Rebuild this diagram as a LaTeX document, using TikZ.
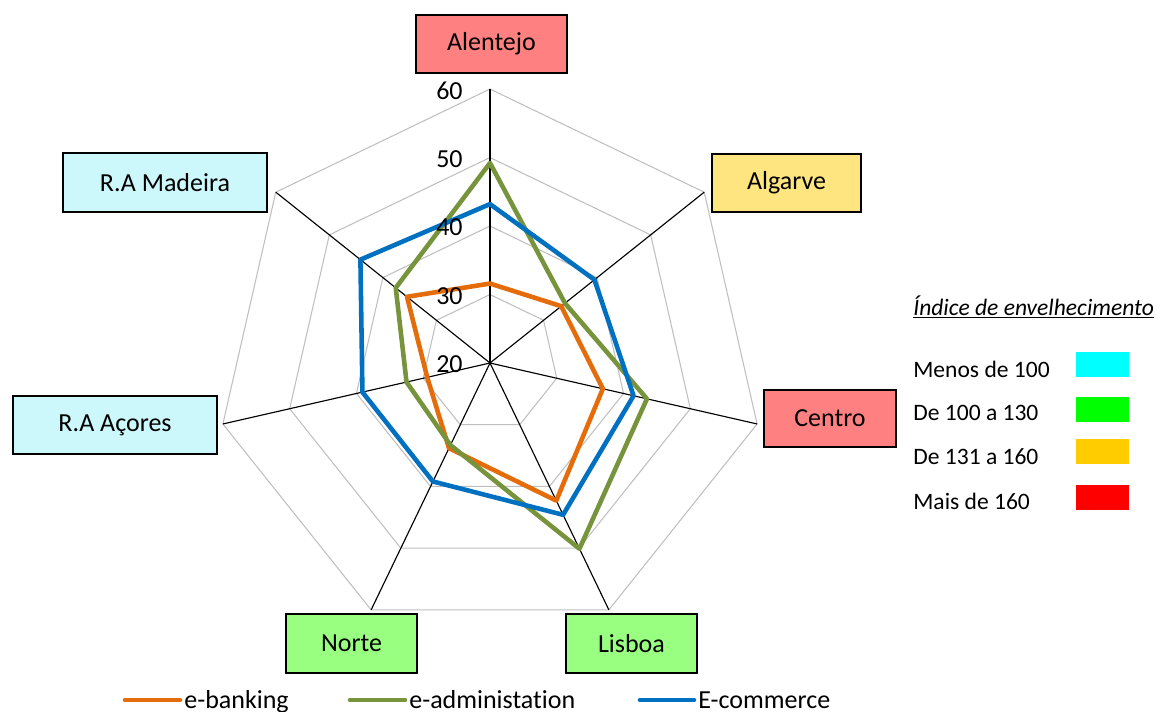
\documentclass[tikz,border=0pt]{standalone}
\usepackage{fontspec}
\setmainfont{Carlito}[Ligatures={NoCommon,NoRequired,NoContextual}]
\definecolor{cOrange}{RGB}{228,108,10}
\definecolor{cGreen}{RGB}{119,147,60}
\definecolor{cBlue}{RGB}{0,112,192}
\definecolor{cGrid}{RGB}{191,191,191}
\definecolor{fRed}{RGB}{255,128,128}
\definecolor{fYellow}{RGB}{255,229,128}
\definecolor{fGreen}{RGB}{153,255,128}
\definecolor{fCyan}{RGB}{204,248,252}
\definecolor{kCyan}{RGB}{0,255,255}
\definecolor{kGreen}{RGB}{0,255,0}
\definecolor{kAmber}{RGB}{255,204,0}
\definecolor{kRed}{RGB}{255,0,0}
\begin{document}
\begin{tikzpicture}[x=0.02cm,y=-0.02cm,
  regionbox/.style={draw=black, line width=1.2pt, inner sep=0pt, font=\fontsize{14.8}{17}\selectfont},
  gridring/.style={draw=cGrid, line width=0.6pt},
  axisline/.style={draw=black, line width=0.65pt},
  series/.style={line width=2.6pt, line join=round},
  ticklabel/.style={anchor=east, inner sep=0pt, font=\fontsize{14.8}{17}\selectfont},
  legtext/.style={anchor=west, inner sep=0pt, font=\fontsize{13.4}{16}\selectfont},
  legkey/.style={minimum width=1.06cm, minimum height=0.5cm, inner sep=0pt},
  serieskey/.style={line width=2.6pt, line cap=round},
  serieslabel/.style={anchor=base west, inner sep=0pt, font=\fontsize{14.8}{17}\selectfont}
]
\useasboundingbox (0,0) rectangle (1161,711);

\begin{scope}[shift={(490,363)}, yscale=-1]
  \coordinate (C) at (0,0);
  \foreach \v in {30,40,50,60}{
    \pgfmathsetmacro{\r}{(\v-20)*6.85}
    \draw[gridring] (90:\r) \foreach \k in {1,...,6}{ -- ({90-\k*360/7}:\r)} -- cycle;
  }
  \foreach \k in {0,...,6}{
    \coordinate (ax\k) at ({90-\k*360/7}:274);
    \draw[axisline] (C) -- (ax\k);
  }
  \foreach \nm/\col/\vals in {
      b/cOrange/{31.6,33.3,36.9,42.3,33.8,29.4,35.5},
      a/cGreen/{49.2,34.0,43.5,50.1,33.3,32.5,37.6},
      e/cBlue/{43.2,39.5,41.5,44.6,39.2,39.1,44.2}}{
    \foreach \val [count=\k from 0] in \vals {
      \coordinate (\nm\k) at ({90-\k*360/7}:{(\val-20)*6.85});
    }
    \draw[series, draw=\col] (\nm0) -- (\nm1) -- (\nm2) -- (\nm3) -- (\nm4) -- (\nm5) -- (\nm6) -- cycle;
  }
\end{scope}

\node[ticklabel] (t60) at (463,90.5) {60};
\node[ticklabel] (t50) at (463,159) {50};
\node[ticklabel] (t40) at (463,227.5) {40};
\node[ticklabel] (t30) at (463,296) {30};
\node[ticklabel] (t20) at (463,364.5) {20};

\node[regionbox, fill=fRed, minimum width=3.02cm, minimum height=1.16cm] (alentejo) at (491.5,44) {Alentejo};
\node[regionbox, fill=fYellow, minimum width=2.98cm, minimum height=1.16cm] (algarve) at (786.5,183) {Algarve};
\node[regionbox, fill=fRed, minimum width=2.64cm, minimum height=1.14cm] (centro) at (830,418.5) {Centro};
\node[regionbox, fill=fGreen, minimum width=2.62cm, minimum height=1.18cm] (lisboa) at (631.5,643.5) {Lisboa};
\node[regionbox, fill=fGreen, minimum width=2.62cm, minimum height=1.18cm] (norte) at (351.5,643.5) {Norte};
\node[regionbox, fill=fCyan, minimum width=4.08cm, minimum height=1.16cm] (acores) at (115,425) {R.A Açores};
\node[regionbox, fill=fCyan, minimum width=4.08cm, minimum height=1.18cm] (madeira) at (165,182.5) {R.A Madeira};

\node[anchor=base west, inner sep=0pt, font=\itshape\fontsize{13.4}{16}\selectfont] (legtitle) at (913,315) {\underline{Índice de envelhecimento}};
\node[legtext] (l1) at (913,369) {Menos de 100};
\node[legtext] (l2) at (913,412.5) {De 100 a 130};
\node[legtext] (l3) at (913,456.5) {De 131 a 160};
\node[legtext] (l4) at (913,501.5) {Mais de 160};
\node[legkey, fill=kCyan] (k1) at (1102.5,364.5) {};
\node[legkey, fill=kGreen] (k2) at (1102.5,409.5) {};
\node[legkey, fill=kAmber] (k3) at (1102.5,451.5) {};
\node[legkey, fill=kRed] (k4) at (1102.5,497.5) {};

\coordinate (ob1) at (125,700); \coordinate (ob2) at (180,700);
\draw[serieskey, draw=cOrange] (ob1) -- (ob2);
\node[serieslabel] (lb) at (184,708) {e-banking};
\coordinate (og1) at (350,700); \coordinate (og2) at (405,700);
\draw[serieskey, draw=cGreen] (og1) -- (og2);
\node[serieslabel] (la) at (409,708) {e-administation};
\coordinate (oe1) at (640,700); \coordinate (oe2) at (694,700);
\draw[serieskey, draw=cBlue] (oe1) -- (oe2);
\node[serieslabel] (le) at (698,708) {E-commerce};
\end{tikzpicture}
\end{document}
